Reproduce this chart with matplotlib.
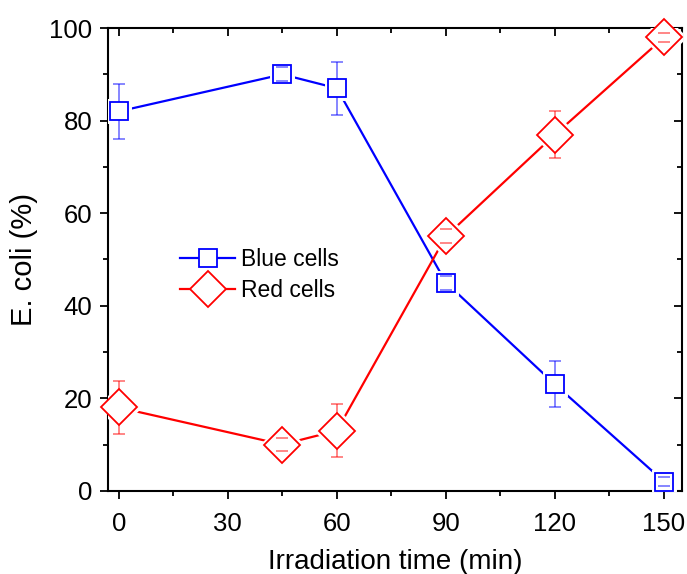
import numpy as np
import matplotlib.pyplot as plt
from matplotlib.ticker import MultipleLocator

plt.rcParams['font.family'] = ['Liberation Sans', 'DejaVu Sans']

# E. coli fractions over irradiation time
time_min = [0, 45, 60, 90, 120, 150]
blue_cells = [82, 90, 87, 45, 23, 2]
blue_err = [6, 1.5, 5.7, 1.5, 5, 1]
red_cells = [18, 10, 13, 55, 77, 98]
red_err = [5.7, 1.5, 5.7, 1.5, 5, 1]

fig, ax = plt.subplots(figsize=(6.87, 5.74), dpi=100)
fig.subplots_adjust(left=0.157, right=0.993, top=0.951, bottom=0.145)

def draw_series(y, err, color, marker, size, label):
    ax.plot(time_min, y, color=color, lw=1.6, zorder=2)
    # white halo so the line stops short of each marker
    ax.plot(time_min, y, ls='none', marker=marker, ms=size, mfc='white',
            mec='white', mew=5, zorder=3)
    eb = ax.errorbar(time_min, y, yerr=err, fmt='none', ecolor=color, alpha=0.6,
                     elinewidth=1.1, capsize=4, capthick=1.1, zorder=4)
    # caps stay visible on top of the marker face
    for cap in eb[1]:
        cap.set_zorder(6)
    ax.plot(time_min, y, ls='none', marker=marker, ms=size, mfc='white',
            mec=color, mew=1.3, zorder=5, clip_on=False)
    # legend handle
    ax.plot([], [], color=color, lw=1.6, marker=marker, ms=size, mfc='white',
            mec=color, mew=1.3, label=label)

draw_series(blue_cells, blue_err, '#0000ff', 's', 13.5, 'Blue cells')
draw_series(red_cells, red_err, '#ff0000', 'D', 18, 'Red cells')

ax.set_xlim(-3, 155)
ax.set_ylim(0, 100)
ax.xaxis.set_major_locator(MultipleLocator(30))
ax.xaxis.set_minor_locator(MultipleLocator(15))
ax.yaxis.set_major_locator(MultipleLocator(20))
ax.yaxis.set_minor_locator(MultipleLocator(10))
ax.tick_params(which='both', direction='out', top=True, right=True,
               labeltop=False, labelright=False, labelsize=18.5, width=1.3)
ax.tick_params(which='major', length=6, pad=5)
ax.tick_params(axis='x', which='major', pad=9)
ax.tick_params(which='minor', length=3.5)
for s in ax.spines.values():
    s.set_linewidth(1.5)

# ticks on top/right point inward
for t in ax.xaxis.get_major_ticks() + ax.xaxis.get_minor_ticks():
    t.tick2line.set_marker(3)
for t in ax.yaxis.get_major_ticks() + ax.yaxis.get_minor_ticks():
    t.tick2line.set_marker(0)

ax.set_xlabel('Irradiation time (min)', fontsize=20, labelpad=10)
ax.set_ylabel('E. coli (%)', fontsize=21, labelpad=8)

ax.legend(loc='upper left', bbox_to_anchor=(0.09, 0.57), frameon=False,
          fontsize=16.5, handlelength=2.4, handletextpad=0.25, labelspacing=0.35)

fig.savefig('out.png')
